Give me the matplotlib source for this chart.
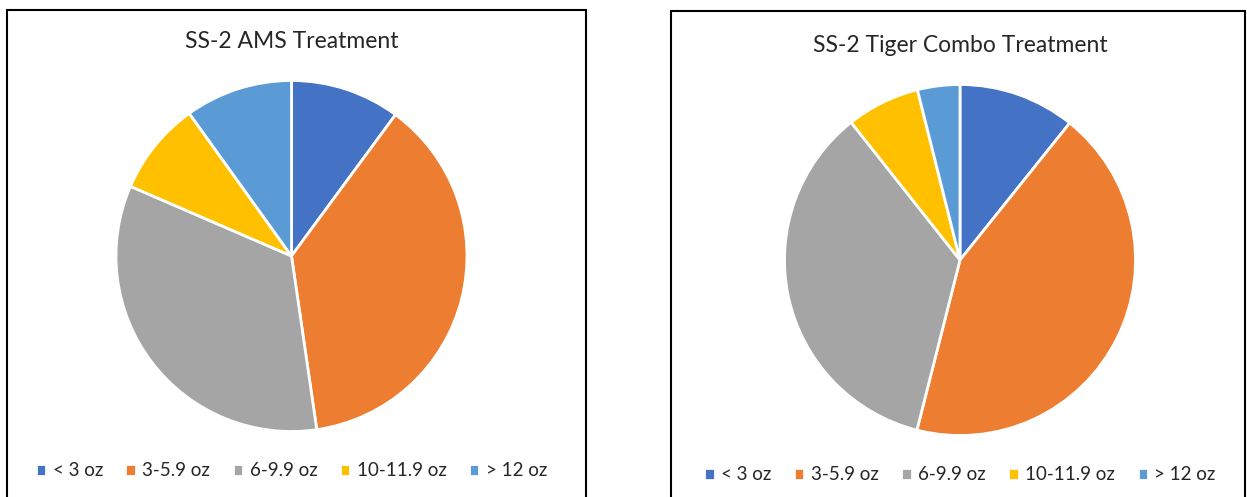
import matplotlib.pyplot as plt
from matplotlib.patches import Rectangle

plt.rcParams['font.family'] = ['Lato', 'DejaVu Sans']

labels = ['< 3 oz', '3-5.9 oz', '6-9.9 oz', '10-11.9 oz', '> 12 oz']
colors = ['#4472C4', '#ED7D31', '#A5A5A5', '#FFC000', '#5B9BD5']

ams_title = 'SS-2 AMS Treatment'
ams_share = [10.1, 37.6, 33.8, 8.6, 9.9]

tiger_title = 'SS-2 Tiger Combo Treatment'
tiger_share = [10.75, 43.2, 35.4, 6.75, 3.9]

W, H = 1247, 497
fig = plt.figure(figsize=(W / 100, H / 100), dpi=100)


def px(x, y):
    # pixel coords (top-left origin) -> figure fraction
    return x / W, 1 - y / H


def panel(cx, cy, r, title, title_y, values, legend_y, box):
    ax = fig.add_axes([(cx - r) / W, (H - cy - r) / H, 2 * r / W, 2 * r / H])
    wedges, _ = ax.pie(values, colors=colors, startangle=90, counterclock=False,
                       wedgeprops=dict(edgecolor='white', linewidth=2))
    ax.set_xlim(-1, 1)
    ax.set_ylim(-1, 1)
    ax.set_aspect('equal')
    ax.axis('off')

    fig.text(*px(cx, title_y), title, ha='center', va='center',
             fontsize=16.5, color='#262626')

    fig.legend(wedges, labels, loc='center', bbox_to_anchor=px(cx, legend_y),
               ncol=5, frameon=False, fontsize=13.5, handlelength=0.55,
               handleheight=0.55, handletextpad=0.35, columnspacing=1.2,
               labelcolor='#262626')

    x0, y0, x1, y1 = box
    fig.add_artist(Rectangle(px(x0, y1), (x1 - x0) / W, (y1 - y0) / H,
                             transform=fig.transFigure, fill=False,
                             edgecolor='black', linewidth=1.5))


panel(291.5, 256, 175.5, ams_title, 42, ams_share, 471, (7, 9.5, 586, 520))
panel(960, 260, 175.5, tiger_title, 45, tiger_share, 475, (671, 11, 1245, 520))

fig.savefig('out.png', dpi=100, facecolor='white')
